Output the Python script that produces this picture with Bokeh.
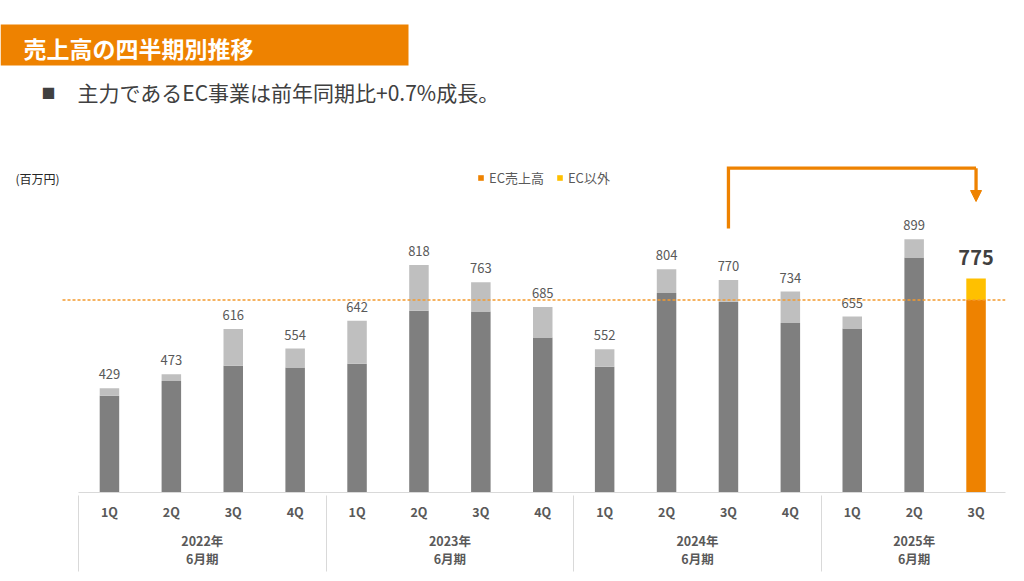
from bokeh.plotting import figure
from bokeh.models import (Range1d, LinearAxis, FixedTicker, ColumnDataSource,
                          Legend, LegendItem, Arrow, NormalHead)
from bokeh.core.properties import value
from bokeh.embed import file_html
from bokeh.resources import INLINE

# ---------------- data ----------------
fiscal_years = ["2022年\n6月期", "2023年\n6月期", "2024年\n6月期", "2025年\n6月期"]
quarters_per_year = [4, 4, 4, 3]
quarter_labels = ["1Q", "2Q", "3Q", "4Q", "1Q", "2Q", "3Q", "4Q",
                  "1Q", "2Q", "3Q", "4Q", "1Q", "2Q", "3Q"]
total_sales = [429, 473, 616, 554, 642, 818, 763, 685, 552, 804, 770, 734, 655, 899, 775]
ec_sales = [405, 452, 500, 494, 506, 673, 671, 589, 497, 729, 702, 635, 617, 841, 707]
series_names = ["EC売上高", "EC以外"]
title_text = "売上高の四半期別推移"
subtitle_text = "主力であるEC事業は前年同期比+0.7%成長。"
unit_text = "(百万円)"
axis_min = 100

# ---------------- layout helpers (page px -> data) ----------------
FONT = "Noto Sans CJK JP"
CAT_W = 61.9          # px per category
BOX_LEFT = 78         # page x of left edge of first category
BASE_Y = 492          # page y of axis baseline
PX_PER_UNIT = 0.317
FRAME_RIGHT = 1005


def xd(px):
    return -0.5 + (px - BOX_LEFT) / CAT_W


def yd(py):
    return axis_min + (BASE_Y - py) / PX_PER_UNIT


ORANGE = "#EE8200"
YELLOW = "#FFC000"
DARK = "#7F7F7F"
LIGHT = "#BFBFBF"
TXT = "#595959"
SEP = "#D9D9D9"

n = len(total_sales)
cur = n - 1
prev = cur - 4

W, H = 1016, 573
p = figure(width=W, height=H,
           x_range=Range1d(xd(0), xd(FRAME_RIGHT)), y_range=Range1d(axis_min, yd(0)),
           output_backend="svg", toolbar_location=None,
           x_axis_location=None, y_axis_location=None,
           min_border_left=0, min_border_right=W - FRAME_RIGHT, min_border_top=0,
           min_border_bottom=H - BASE_Y,
           outline_line_color=None, background_fill_color="white", border_fill_color="white")
p.grid.grid_line_color = None

src = ColumnDataSource(dict(
    x=list(range(n)),
    ec=ec_sales,
    total=total_sales,
    ec_color=[ORANGE if i == cur else DARK for i in range(n)],
    other_color=[YELLOW if i == cur else LIGHT for i in range(n)],
))

BAR_W = 0.315
r_ec = p.vbar(x="x", bottom=axis_min, top="ec", width=BAR_W, fill_color="ec_color",
              line_color=None, source=src)
r_other = p.vbar(x="x", bottom="ec", top="total", width=BAR_W, fill_color="other_color",
                 line_color=None, source=src)

# value labels
p.text(x=list(range(cur)), y=total_sales[:cur], text=[str(v) for v in total_sales[:cur]],
       text_align="center", text_baseline="middle", y_offset=-14,
       text_font=value(FONT), text_font_size="13px", text_color=TXT)
p.text(x=[cur], y=[total_sales[cur]], text=[str(total_sales[cur])],
       text_align="center", text_baseline="middle", y_offset=-21,
       text_font=value(FONT), text_font_size="20px", text_font_style="bold",
       text_color="#404040")

# reference dashed line at current EC level
p.segment(x0=[xd(62)], x1=[n - 0.5], y0=[ec_sales[cur]], y1=[ec_sales[cur]],
          line_color="#F39A2E", line_width=1.5, line_dash="3 2")

# comparison arrow
p.line(x=[prev, prev, cur], y=[yd(228), yd(167.7), yd(167.7)],
       line_color=ORANGE, line_width=3.3, line_join="miter")
p.add_layout(Arrow(x_start=cur, y_start=yd(167.7), x_end=cur, y_end=yd(201),
                   line_color=ORANGE, line_width=3.3,
                   end=NormalHead(size=11, fill_color=ORANGE, line_color=ORANGE)))

# header bar and texts
p.quad(left=[xd(0)], right=[xd(408)], top=[yd(24)], bottom=[yd(65)],
       fill_color=ORANGE, line_color=None)
p.text(x=[xd(23)], y=[yd(47)], text=[title_text], text_baseline="middle",
       text_font=value(FONT), text_font_size="23px", text_font_style="bold",
       text_color="white")
p.text(x=[xd(48)], y=[yd(91)], text=["■"], text_baseline="middle", text_align="center",
       text_font=value(FONT), text_font_size="14px", text_color="#404040")
p.text(x=[xd(77)], y=[yd(91.5)], text=[subtitle_text], text_baseline="middle",
       text_font=value(FONT), text_font_size="21px", text_color="#404040")
p.text(x=[xd(15)], y=[yd(178)], text=[unit_text], text_baseline="middle",
       text_font=value(FONT), text_font_size="12px", text_color="#262626")

# legend
legend = Legend(items=[LegendItem(label=series_names[0], renderers=[r_ec], index=cur),
                       LegendItem(label=series_names[1], renderers=[r_other], index=cur)],
                orientation="horizontal", location=(477, BASE_Y - 187),
                glyph_width=7, glyph_height=7, label_height=14, label_standoff=5,
                spacing=12, padding=0, margin=0, border_line_color=None,
                background_fill_alpha=0, label_text_font=FONT,
                label_text_font_size="13px", label_text_color=TXT)
p.add_layout(legend)

# category axes
bounds = [-0.5]
for k in quarters_per_year:
    bounds.append(bounds[-1] + k)
centers = [(bounds[i] + bounds[i + 1]) / 2 for i in range(len(fiscal_years))]

ax1 = LinearAxis(ticker=FixedTicker(ticks=list(range(n)), minor_ticks=[]),
                 major_label_overrides={i: q for i, q in enumerate(quarter_labels)},
                 bounds=(bounds[0], bounds[-1]),
                 axis_line_color=SEP, axis_line_width=1,
                 major_tick_line_color=None, major_tick_out=0, major_tick_in=0,
                 minor_tick_line_color=None,
                 major_label_standoff=9, major_label_text_font=FONT,
                 major_label_text_font_style="bold", major_label_text_font_size="12.5px",
                 major_label_text_color=TXT)
p.add_layout(ax1, "below")

ax2 = LinearAxis(ticker=FixedTicker(ticks=centers, minor_ticks=[]),
                 major_label_overrides={c: fy for c, fy in zip(centers, fiscal_years)},
                 axis_line_color=None, major_tick_line_color=None,
                 minor_tick_line_color=None, major_tick_out=0, major_tick_in=0,
                 major_label_standoff=7, major_label_text_font=FONT,
                 major_label_text_font_style="bold", major_label_text_font_size="12.5px",
                 major_label_text_color=TXT, major_label_text_line_height=0.98)
p.add_layout(ax2, "below")

# separator axis: ticks reach up to the baseline
ax3 = LinearAxis(ticker=FixedTicker(ticks=bounds, minor_ticks=[]),
                 major_label_overrides={b: "" for b in bounds},
                 axis_line_color=None, major_tick_line_color=SEP, major_tick_line_width=1,
                 major_tick_out=0, major_tick_in=76, minor_tick_line_color=None,
                 major_label_standoff=0, major_label_text_font_size="1px")
p.add_layout(ax3, "below")

open("out.html", "w").write(file_html(p, INLINE))
